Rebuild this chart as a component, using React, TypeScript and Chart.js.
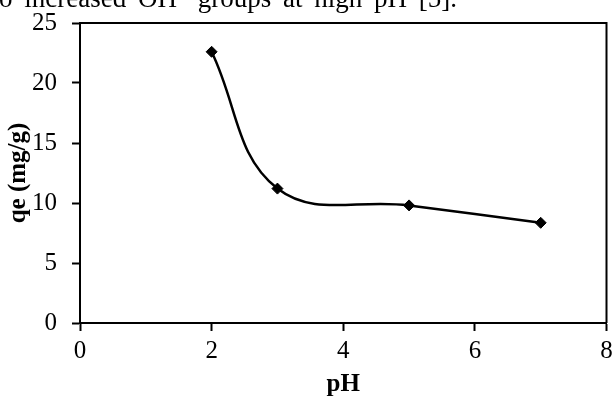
import React, { useEffect, useRef } from "react";
import { Chart, registerables } from "chart.js";

Chart.register(...registerables);

const phValues = [2, 3, 5, 7];
const qeValues = [22.6, 11.2, 9.8, 8.35];
const xTicks = [0, 2, 4, 6, 8];
const yTicks = [0, 5, 10, 15, 20, 25];
const xTitle = "pH";
const yTitle = "qe (mg/g)";
const captionText = "o increased OH\u207B groups at high pH [5].";

const SERIF = '"Liberation Serif", "Times New Roman", serif';

const frameBox = {
  id: "frameBox",
  afterDraw(chart: any) {
    const { ctx, chartArea } = chart;
    ctx.save();
    ctx.strokeStyle = "#000";
    ctx.lineWidth = 2;
    ctx.beginPath();
    ctx.moveTo(chartArea.left, chartArea.top);
    ctx.lineTo(chartArea.right, chartArea.top);
    ctx.lineTo(chartArea.right, chartArea.bottom);
    ctx.stroke();
    ctx.restore();
  },
};

export default function App() {
  const ref = useRef<HTMLCanvasElement | null>(null);

  useEffect(() => {
    if (!ref.current) return;
    const chart = new Chart(ref.current, {
      type: "line",
      data: {
        datasets: [
          {
            data: phValues.map((x, i) => ({ x, y: qeValues[i] })),
            borderColor: "#000",
            backgroundColor: "#000",
            borderWidth: 2.5,
            tension: 0.4,
            pointStyle: "rectRot",
            pointRadius: 5.5,
            pointHoverRadius: 5.5,
            pointBorderWidth: 1,
            pointBorderColor: "#000",
            pointBackgroundColor: "#000",
            fill: false,
          },
        ],
      },
      options: {
        responsive: false,
        animation: false,
        events: [],
        layout: { padding: { left: 0, right: 6, top: 23, bottom: 0 } },
        plugins: {
          legend: { display: false },
          tooltip: { enabled: false },
        },
        scales: {
          x: {
            type: "linear",
            min: 0,
            max: 8,
            afterBuildTicks: (scale: any) => {
              scale.ticks = xTicks.map((v) => ({ value: v }));
            },
            afterFit: (scale: any) => {
              scale.height = 78;
              scale.paddingLeft = 0;
              scale.paddingRight = 0;
            },
            ticks: {
              color: "#000",
              font: { family: SERIF, size: 25 },
              padding: 5.5,
              maxRotation: 0,
            },
            grid: {
              drawOnChartArea: false,
              drawTicks: true,
              tickLength: 8,
              tickColor: "#000",
              tickWidth: 2,
            },
            border: { display: true, color: "#000", width: 2 },
            title: {
              display: true,
              text: xTitle,
              color: "#000",
              font: { family: SERIF, size: 25, weight: "bold" },
              padding: { top: 0, bottom: 1.4 },
            },
          },
          y: {
            type: "linear",
            min: 0,
            max: 25,
            afterBuildTicks: (scale: any) => {
              scale.ticks = yTicks.map((v) => ({ value: v }));
            },
            afterFit: (scale: any) => {
              scale.width = 80;
              scale.paddingTop = 0;
              scale.paddingBottom = 0;
            },
            ticks: {
              color: "#000",
              font: { family: SERIF, size: 25 },
              padding: 15,
            },
            grid: {
              drawOnChartArea: false,
              drawTicks: true,
              tickLength: 8,
              tickColor: "#000",
              tickWidth: 2,
            },
            border: { display: true, color: "#000", width: 2 },
            title: {
              display: true,
              text: yTitle,
              color: "#000",
              font: { family: SERIF, size: 25, weight: "bold" },
              padding: { top: 4, bottom: 0 },
            },
          },
        },
      },
      plugins: [frameBox],
    });
    return () => chart.destroy();
  }, []);

  return (
    <div
      style={{
        position: "absolute",
        left: 0,
        top: 0,
        width: 613,
        height: 401,
        overflow: "hidden",
        background: "#fff",
      }}
    >
      <canvas
        ref={ref}
        width={613}
        height={401}
        style={{ position: "absolute", left: 0, top: 0, width: 613, height: 401 }}
      />
      <div
        style={{
          position: "absolute",
          left: -1,
          top: -14.6,
          fontFamily: SERIF,
          fontSize: 27,
          lineHeight: "27px",
          wordSpacing: 5,
          whiteSpace: "nowrap",
          color: "#000",
        }}
      >
        {captionText}
      </div>
    </div>
  );
}
